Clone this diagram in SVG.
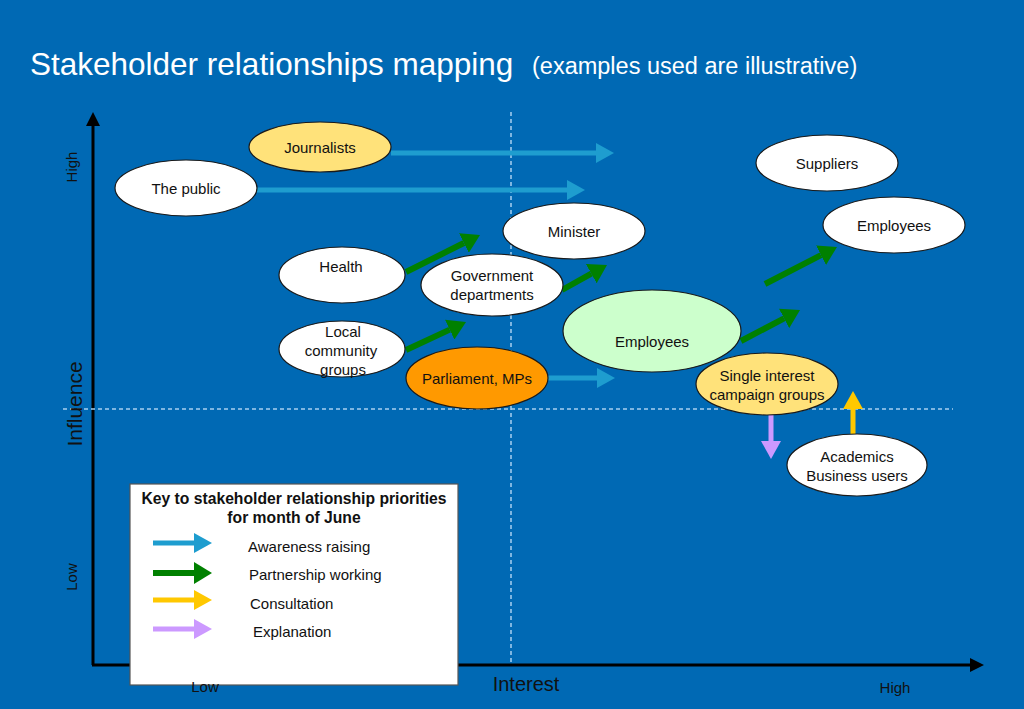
<svg xmlns="http://www.w3.org/2000/svg" width="1024" height="709" viewBox="0 0 1024 709">
<defs>
<style>
text{font-family:"Liberation Sans",Arial,sans-serif;}
.node ellipse{stroke:#1a1a1a;stroke-width:1.2;}
.lbl{font-size:15px;fill:#111;text-anchor:middle;}
.ax{font-size:15px;fill:#111;}
.dash{stroke:#a8d0f0;stroke-width:1.5;stroke-dasharray:4 3;fill:none;}
.blue{stroke:#1e9dcf;stroke-width:5;fill:none;}
.green{stroke:#008000;stroke-width:6;fill:none;}
.yellow{stroke:#ffc800;stroke-width:5;fill:none;}
.purple{stroke:#cc99ff;stroke-width:5;fill:none;}
.leg{font-size:15px;fill:#111;}
</style>
<marker id="hb" viewBox="0 0 18 20" markerWidth="18" markerHeight="20" refX="0" refY="10" orient="auto" markerUnits="userSpaceOnUse"><path d="M0,0 L18,10 L0,20 z" fill="#1e9dcf"/></marker>
<marker id="hg" viewBox="0 0 18 22" markerWidth="18" markerHeight="22" refX="0" refY="11" orient="auto" markerUnits="userSpaceOnUse"><path d="M0,0 L18,11 L0,22 z" fill="#008000"/></marker>
<marker id="hy" viewBox="0 0 18 20" markerWidth="18" markerHeight="20" refX="0" refY="10" orient="auto" markerUnits="userSpaceOnUse"><path d="M0,0 L18,10 L0,20 z" fill="#ffc800"/></marker>
<marker id="hp" viewBox="0 0 18 20" markerWidth="18" markerHeight="20" refX="0" refY="10" orient="auto" markerUnits="userSpaceOnUse"><path d="M0,0 L18,10 L0,20 z" fill="#cc99ff"/></marker>
<marker id="hk" viewBox="0 0 14 14" markerWidth="14" markerHeight="14" refX="0" refY="7" orient="auto" markerUnits="userSpaceOnUse"><path d="M0,0 L14,7 L0,14 z" fill="#000"/></marker>
</defs>
<rect x="0" y="0" width="1024" height="709" fill="#0069b4"/>
<text x="30" y="75" font-size="31.5" fill="#fff">Stakeholder relationships mapping</text>
<text x="532" y="74" font-size="23.5" fill="#fff">(examples used are illustrative)</text>
<g id="axes">
<line x1="93" y1="665" x2="93" y2="126" stroke="#000" stroke-width="3" marker-end="url(#hk)"/>
<line x1="92" y1="665" x2="970" y2="665" stroke="#000" stroke-width="3" marker-end="url(#hk)"/>
<line class="dash" x1="511" y1="112" x2="511" y2="664"/>
<line class="dash" x1="63" y1="409" x2="953" y2="409"/>
<text class="ax" transform="translate(77,167) rotate(-90)" text-anchor="middle">High</text>
<text transform="translate(82,404) rotate(-90)" text-anchor="middle" font-size="21" fill="#111">Influence</text>
<text class="ax" transform="translate(77,577) rotate(-90)" text-anchor="middle">Low</text>
<text x="526" y="691" font-size="20" fill="#111" text-anchor="middle">Interest</text>
<text class="ax" x="895" y="693" text-anchor="middle">High</text>
</g>
<g id="connectors">
<line class="blue" x1="391" y1="153" x2="596" y2="153" marker-end="url(#hb)"/>
<line class="blue" x1="257" y1="190" x2="567" y2="190" marker-end="url(#hb)"/>
<line class="blue" x1="548" y1="378" x2="597" y2="378" marker-end="url(#hb)"/>
<line class="green" x1="406" y1="272" x2="463.9" y2="243" marker-end="url(#hg)"/>
<line class="green" x1="406" y1="350" x2="449.7" y2="329.6" marker-end="url(#hg)"/>
<line class="green" x1="562" y1="290" x2="591.3" y2="273.7" marker-end="url(#hg)"/>
<line class="green" x1="741" y1="341" x2="784.1" y2="318.4" marker-end="url(#hg)"/>
<line class="green" x1="765" y1="284" x2="821" y2="255.2" marker-end="url(#hg)"/>
<line class="yellow" x1="853" y1="434" x2="853" y2="409" marker-end="url(#hy)"/>
<line class="purple" x1="771" y1="415" x2="771" y2="441" marker-end="url(#hp)"/>
</g>
<g id="journalists" class="node"><ellipse cx="320" cy="147" rx="71" ry="25" fill="#ffe27a"/><text class="lbl" x="320" y="153">Journalists</text></g>
<g id="the-public" class="node"><ellipse cx="186" cy="188" rx="71" ry="28" fill="#fff"/><text class="lbl" x="186" y="194">The public</text></g>
<g id="suppliers" class="node"><ellipse cx="827" cy="163" rx="71" ry="28" fill="#fff"/><text class="lbl" x="827" y="169">Suppliers</text></g>
<g id="employees-top" class="node"><ellipse cx="894" cy="225" rx="71" ry="28" fill="#fff"/><text class="lbl" x="894" y="231">Employees</text></g>
<g id="minister" class="node"><ellipse cx="574" cy="231" rx="71" ry="28" fill="#fff"/><text class="lbl" x="574" y="237">Minister</text></g>
<g id="health" class="node"><ellipse cx="342" cy="275" rx="63" ry="28" fill="#fff"/><text class="lbl" x="341" y="272">Health</text></g>
<g id="government-departments" class="node"><ellipse cx="492" cy="285" rx="71" ry="31" fill="#fff"/><text class="lbl" x="492" y="281">Government</text><text class="lbl" x="492" y="300">departments</text></g>
<g id="employees-mid" class="node"><ellipse cx="652" cy="331" rx="89" ry="41" fill="#ccffcc"/><text class="lbl" x="652" y="347">Employees</text></g>
<g id="local-community-groups" class="node"><ellipse cx="342" cy="349" rx="63" ry="28" fill="#fff"/><text class="lbl" x="343" y="337">Local</text><text class="lbl" x="341" y="356">community</text><text class="lbl" x="343" y="375">groups</text></g>
<g id="parliament-mps" class="node"><ellipse cx="477" cy="378" rx="71" ry="31" fill="#ff9900"/><text class="lbl" x="477" y="384">Parliament, MPs</text></g>
<g id="single-interest" class="node"><ellipse cx="767" cy="384" rx="71" ry="31" fill="#ffe27a"/><text class="lbl" x="767" y="381">Single interest</text><text class="lbl" x="767" y="400">campaign groups</text></g>
<g id="academics" class="node"><ellipse cx="857" cy="465" rx="70" ry="31" fill="#fff"/><text class="lbl" x="857" y="462">Academics</text><text class="lbl" x="857" y="481">Business users</text></g>
<g id="legend">
<rect x="130" y="484" width="328" height="201" fill="#fff" stroke="#555" stroke-width="1.2"/>
<text x="294" y="504" font-size="15.7" font-weight="bold" fill="#111" text-anchor="middle">Key to stakeholder relationship priorities</text>
<text x="294" y="523" font-size="15.7" font-weight="bold" fill="#111" text-anchor="middle">for month of June</text>
<line class="blue" x1="153" y1="543" x2="194" y2="543" marker-end="url(#hb)"/>
<line class="green" x1="153" y1="573" x2="194" y2="573" marker-end="url(#hg)"/>
<line class="yellow" x1="153" y1="600" x2="194" y2="600" marker-end="url(#hy)"/>
<line class="purple" x1="153" y1="629" x2="194" y2="629" marker-end="url(#hp)"/>
<text class="leg" x="248" y="552">Awareness raising</text>
<text class="leg" x="249" y="580">Partnership working</text>
<text class="leg" x="250" y="609">Consultation</text>
<text class="leg" x="253" y="637">Explanation</text>
</g>
<text class="ax" x="205" y="692" text-anchor="middle">Low</text>
</svg>
